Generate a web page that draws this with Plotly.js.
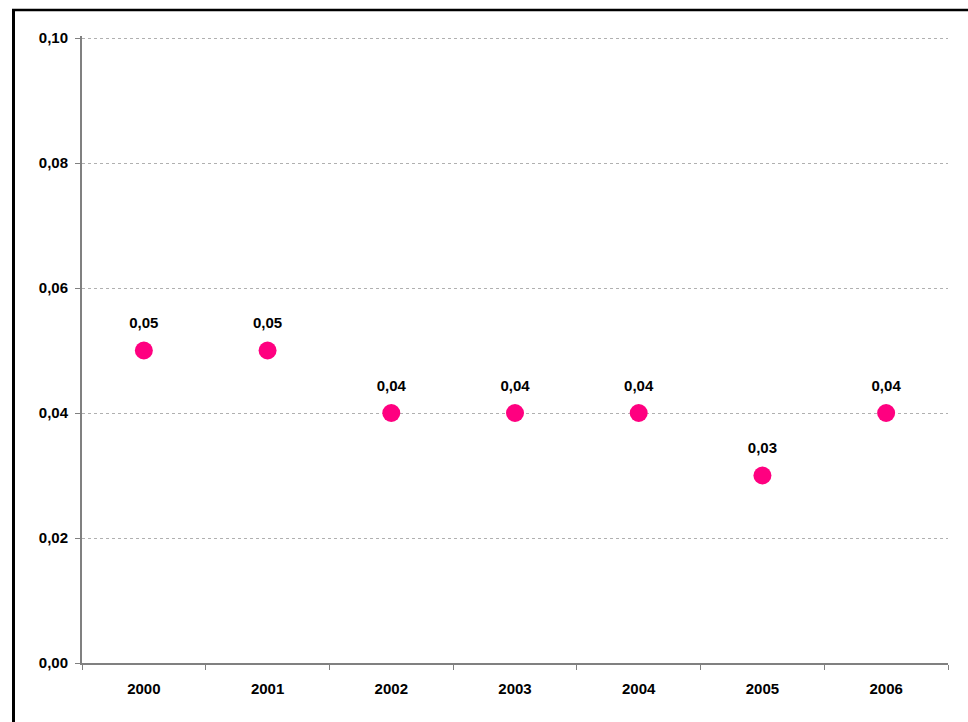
<!DOCTYPE html>
<html>
<head>
<meta charset="utf-8">
<script src="https://cdn.plot.ly/plotly-3.0.1.min.js"></script>
<style>
  html, body { margin: 0; padding: 0; background: #ffffff; }
  #chart { width: 968px; height: 722px; }
</style>
</head>
<body>
<div id="chart"></div>
<script>
const years = ['2000', '2001', '2002', '2003', '2004', '2005', '2006'];
const values = [0.05, 0.05, 0.04, 0.04, 0.04, 0.03, 0.04];
const yTicks = [0, 0.02, 0.04, 0.06, 0.08, 0.10];

const fontFam = 'Liberation Sans, Arial, sans-serif';
const W = 968, H = 722;
const margin = { l: 82, r: 20, t: 36, b: 59 };
const pw = W - margin.l - margin.r;
const ph = H - margin.t - margin.b;
const px = x => (x - margin.l) / pw;
const py = y => 1 - (y - margin.t) / ph;
const boldFont = { family: fontFam, size: 15, color: '#000000', weight: 'bold' };

const labelTrace = {
  type: 'scatter',
  mode: 'markers+text',
  x: years,
  y: values,
  text: values.map(v => v.toFixed(2).replace('.', ',')),
  textposition: 'top center',
  textfont: boldFont,
  marker: { color: 'rgba(0,0,0,0)', size: 28, line: { width: 0 } },
  hoverinfo: 'skip',
  cliponaxis: false
};

const trace = {
  type: 'scatter',
  mode: 'markers',
  x: years,
  y: values,
  marker: { color: '#FF0080', size: 18, line: { width: 0 } },
  hoverinfo: 'x+y',
  cliponaxis: false
};

const layout = {
  width: W,
  height: H,
  margin: margin,
  paper_bgcolor: '#ffffff',
  plot_bgcolor: '#ffffff',
  showlegend: false,
  separators: ',.',
  font: boldFont,
  xaxis: {
    type: 'category',
    categoryorder: 'array',
    categoryarray: years,
    range: [-0.5, years.length - 0.5],
    tickson: 'boundaries',
    ticks: 'outside',
    ticklen: 5,
    tickcolor: '#808080',
    tickwidth: 1,
    showline: true,
    linecolor: '#808080',
    linewidth: 2,
    showgrid: false,
    zeroline: false,
    tickfont: boldFont,
    ticklabelstandoff: 11
  },
  yaxis: {
    range: [0, 0.10032],
    tickvals: yTicks,
    tickformat: '.2f',
    ticks: 'outside',
    ticklen: 5,
    tickcolor: '#808080',
    tickwidth: 1,
    showline: true,
    linecolor: '#808080',
    linewidth: 2,
    showgrid: true,
    gridcolor: '#b0b0b0',
    griddash: 'dot',
    gridwidth: 1,
    zeroline: false,
    tickfont: boldFont,
    ticklabelstandoff: 4
  },
  shapes: [
    { type: 'line', xref: 'paper', yref: 'paper', x0: px(13.5), x1: px(13.5), y0: py(9), y1: py(730), line: { color: '#000000', width: 3 }, layer: 'above' },
    { type: 'line', xref: 'paper', yref: 'paper', x0: px(12), x1: px(980), y0: py(10), y1: py(10), line: { color: '#000000', width: 2.5 }, layer: 'above' }
  ]
};

Plotly.newPlot('chart', [labelTrace, trace], layout, { displayModeBar: false, staticPlot: true });
</script>
</body>
</html>
